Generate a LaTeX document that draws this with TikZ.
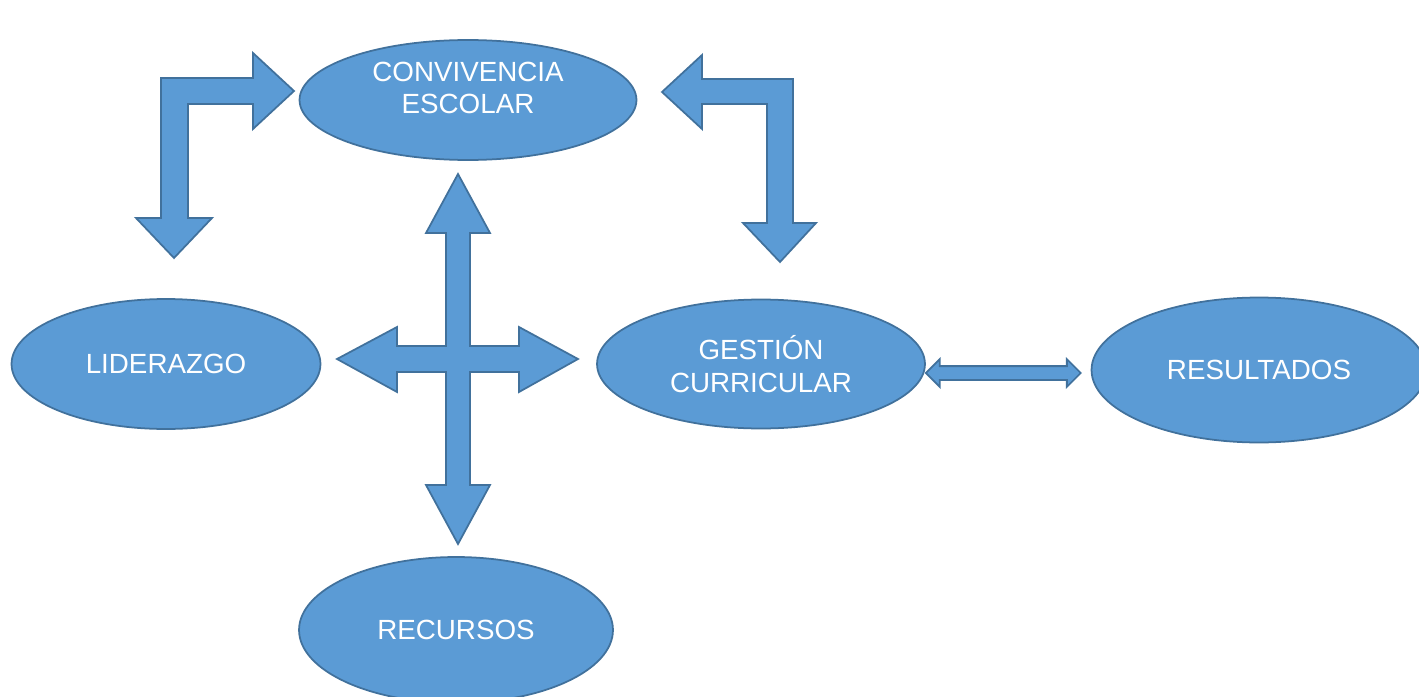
\documentclass[tikz,border=0pt]{standalone}
\usepackage{fontspec}
\setmainfont{Liberation Sans}
\usepackage{tikz}
\usetikzlibrary{shapes.geometric,shapes.arrows,calc}

\definecolor{ovalfill}{HTML}{5B9BD5}
\definecolor{ovalline}{HTML}{41719C}

\begin{document}
\begin{tikzpicture}[x=0.02cm,y=-0.02cm,
  oval/.style={ellipse,fill=ovalfill,draw=ovalline,line width=1pt,inner sep=0pt,text=white,align=center,font=\fontsize{15.8}{18.5}\selectfont},
  lbl/.style={text=white,align=center,font=\fontsize{15.8}{18.5}\selectfont},
  blockarrow/.style={fill=ovalfill,draw=ovalline,line width=1pt,line join=miter},
  dblarrow/.style={double arrow,fill=ovalfill,draw=ovalline,line width=1pt,inner xsep=0pt,inner ysep=0.12cm,double arrow head extend=0.14cm,minimum height=3.1cm}]
\useasboundingbox (0,0) rectangle (1419,696);

\node[oval,minimum width=6.74cm,minimum height=2.4cm,label={[lbl,yshift=0.24cm]center:{CONVIVENCIA\\ESCOLAR}}] (conv) at (468,100) {};
\node[oval,minimum width=6.18cm,minimum height=2.6cm] (lid) at (166,364) {LIDERAZGO};
\node[oval,minimum width=6.56cm,minimum height=2.58cm] (gest) at (761,364) {GESTIÓN\\CURRICULAR};
\node[oval,minimum width=6.7cm,minimum height=2.9cm] (res) at (1259,370) {RESULTADOS};
\node[oval,minimum width=6.28cm,minimum height=2.92cm] (rec) at (456,630) {RECURSOS};

\draw[blockarrow] (174,258) -- (212,218) -- (188,218) -- (188,104) -- (253,104) -- (253,129) -- (294,91) -- (253,53) -- (253,78) -- (161,78) -- (161,218) -- (136,218) -- cycle;
\draw[blockarrow] (662,92) -- (702,55) -- (702,79) -- (793,79) -- (793,223) -- (816,223) -- (780,262) -- (743,223) -- (767,223) -- (767,104) -- (702,104) -- (702,129) -- cycle;
\draw[blockarrow] (458,174) -- (490,233) -- (470,233) -- (470,346) -- (519,346) -- (519,327) -- (578,359) -- (519,392) -- (519,372) -- (470,372) -- (470,485) -- (490,485) -- (458,544) -- (426,485) -- (446,485) -- (446,372) -- (397,372) -- (397,392) -- (337,359) -- (397,327) -- (397,346) -- (446,346) -- (446,233) -- (426,233) -- cycle;

\node[dblarrow] (link) at ($(gest.east)!0.5!(res.west)+(-5,6)$) {};
\end{tikzpicture}
\end{document}
